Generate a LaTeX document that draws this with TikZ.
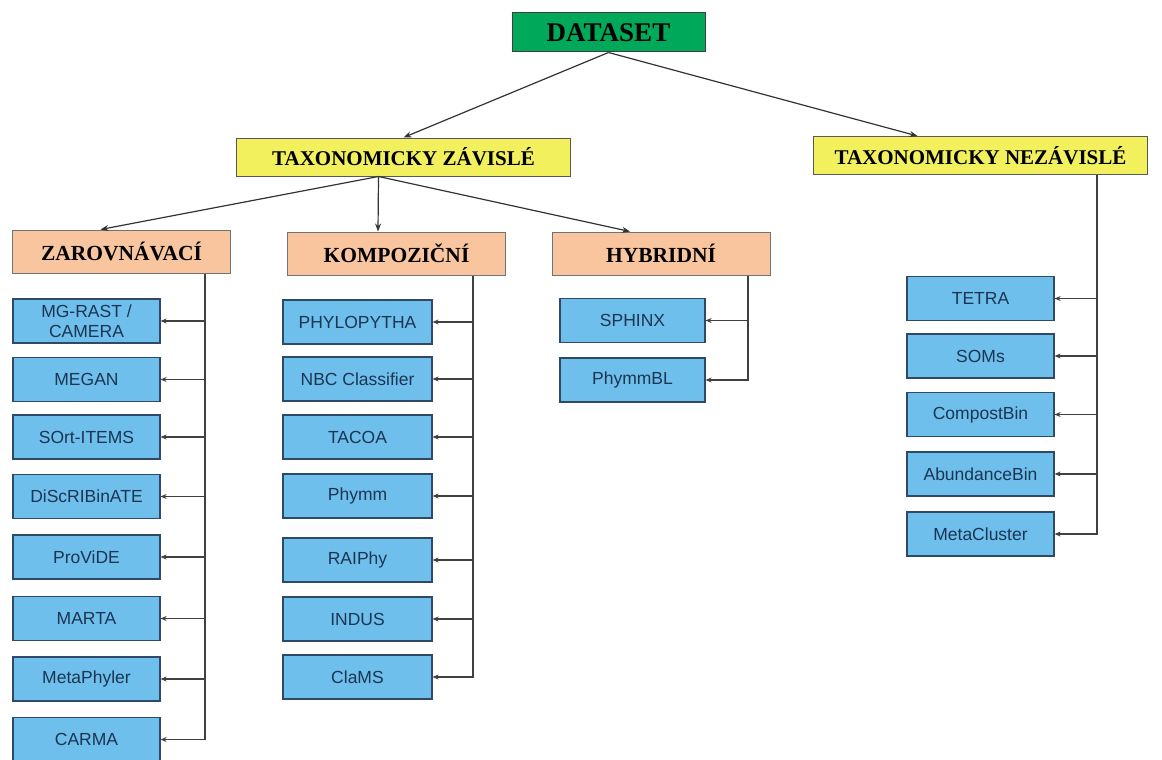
\documentclass[tikz,border=0pt]{standalone}
\usepackage{fontspec}
\setmainfont{Liberation Serif}
\setsansfont{Liberation Sans}
\usetikzlibrary{arrows.meta}

\definecolor{rootgreen}{HTML}{00A85A}
\definecolor{groupyellow}{HTML}{F2F05C}
\definecolor{kindorange}{HTML}{F8C59E}
\definecolor{toolblue}{HTML}{6EBFEC}
\definecolor{toolline}{HTML}{2E4A66}
\definecolor{tooltext}{HTML}{1B3552}

\begin{document}
\begin{tikzpicture}[x=1pt,y=-1pt]
        \tikzstyle{every node}=[inner sep=0pt]
        \tikzstyle{root}=[draw=black!75, line width=1pt, fill=rootgreen, minimum width=193pt, minimum height=39pt, font=\fontsize{27}{27}\selectfont\bfseries]
        \tikzstyle{group}=[draw=black!65, line width=1pt, fill=groupyellow, minimum width=334pt, minimum height=38pt, font=\fontsize{21}{21}\selectfont\bfseries]
        \tikzstyle{kind}=[draw=black!55, line width=1pt, fill=kindorange, minimum width=218pt, minimum height=43pt, font=\fontsize{21.5}{21.5}\selectfont\bfseries]
        \tikzstyle{tool}=[draw=toolline, line width=1.2pt, fill=toolblue, minimum width=147pt, minimum height=44pt, text=tooltext, align=center, font=\sffamily\fontsize{17.5}{20}\selectfont]
        \tikzstyle{link}=[draw=black!80, line width=1.2pt, -{Stealth[length=8pt,width=6pt]}]
        \tikzstyle{feed}=[draw=black!75, line width=1.2pt, -{Stealth[length=6pt,width=5pt]}]

        \useasboundingbox (0,0) rectangle (1162,760);

        \node[root] (dataset) at (608.5,32.5) {DATASET};

        \node[group] (zavisle) at (403.5,157) {TAXONOMICKY ZÁVISLÉ};
        \node[group] (nezavisle) at (980.5,155.5) {TAXONOMICKY NEZÁVISLÉ};

        \node[kind] (zarov) at (121.5,251.5) {ZAROVNÁVACÍ};
        \node[kind] (kompoz) at (396.5,253.5) {KOMPOZIČNÍ};
        \node[kind] (hybrid) at (661,253.5) {HYBRIDNÍ};

        \node[tool] (mgrast) at (86.5,321) {MG-RAST /\\CAMERA};
        \node[tool] (megan) at (86.5,379.5) {MEGAN};
        \node[tool] (sortitems) at (86.5,437) {SOrt-ITEMS};
        \node[tool] (discribinate) at (86.5,496.5) {DiScRIBinATE};
        \node[tool] (provide) at (86.5,557) {ProViDE};
        \node[tool] (marta) at (86.5,618.5) {MARTA};
        \node[tool] (metaphyler) at (86.5,679) {MetaPhyler};
        \node[tool] (carma) at (86.5,739.5) {CARMA};

        \node[tool, minimum width=149pt] (phylopytha) at (357.5,322) {PHYLOPYTHA};
        \node[tool, minimum width=149pt] (nbc) at (357.5,379) {NBC Classifier};
        \node[tool, minimum width=149pt] (tacoa) at (357.5,437) {TACOA};
        \node[tool, minimum width=149pt] (phymm) at (357.5,496) {Phymm};
        \node[tool, minimum width=149pt] (raiphy) at (357.5,560) {RAIPhy};
        \node[tool, minimum width=149pt] (indus) at (357.5,619) {INDUS};
        \node[tool, minimum width=149pt] (clams) at (357.5,677) {ClaMS};

        \node[tool, minimum width=145pt] (sphinx) at (632.5,320.5) {SPHINX};
        \node[tool, minimum width=145pt] (phymmbl) at (632.5,380) {PhymmBL};

        \node[tool] (tetra) at (980.5,298.5) {TETRA};
        \node[tool] (soms) at (980.5,356) {SOMs};
        \node[tool] (compostbin) at (980.5,414.5) {CompostBin};
        \node[tool] (abundancebin) at (980.5,474) {AbundanceBin};
        \node[tool] (metacluster) at (980.5,534) {MetaCluster};

        \coordinate (zavout) at ([xshift=-25pt]zavisle.south);
        \coordinate (trunkA) at ([xshift=83.5pt]zarov.south);
        \coordinate (trunkB) at ([xshift=76.5pt]kompoz.south);
        \coordinate (trunkC) at ([xshift=87pt]hybrid.south);
        \coordinate (trunkD) at ([xshift=116.5pt]nezavisle.south);

        \draw[link] (dataset.south) -- (zavisle.north);
        \draw[link] (dataset.south) -- ([xshift=-63pt]nezavisle.north);

        \draw[link] (zavout) -- ([xshift=-21pt]zarov.north);
        \draw[link] (zavout) -- ([xshift=-18.5pt]kompoz.north);
        \draw[link] (zavout) -- ([xshift=-31pt]hybrid.north);

        \draw[feed] (trunkA) |- (carma);
        \draw[feed] (mgrast.east -| trunkA) -- (mgrast);
        \draw[feed] (megan.east -| trunkA) -- (megan);
        \draw[feed] (sortitems.east -| trunkA) -- (sortitems);
        \draw[feed] (discribinate.east -| trunkA) -- (discribinate);
        \draw[feed] (provide.east -| trunkA) -- (provide);
        \draw[feed] (marta.east -| trunkA) -- (marta);
        \draw[feed] (metaphyler.east -| trunkA) -- (metaphyler);

        \draw[feed] (trunkB) |- (clams);
        \draw[feed] (phylopytha.east -| trunkB) -- (phylopytha);
        \draw[feed] (nbc.east -| trunkB) -- (nbc);
        \draw[feed] (tacoa.east -| trunkB) -- (tacoa);
        \draw[feed] (phymm.east -| trunkB) -- (phymm);
        \draw[feed] (raiphy.east -| trunkB) -- (raiphy);
        \draw[feed] (indus.east -| trunkB) -- (indus);

        \draw[feed] (trunkC) |- (phymmbl);
        \draw[feed] (sphinx.east -| trunkC) -- (sphinx);

        \draw[feed] (trunkD) |- (metacluster);
        \draw[feed] (tetra.east -| trunkD) -- (tetra);
        \draw[feed] (soms.east -| trunkD) -- (soms);
        \draw[feed] (compostbin.east -| trunkD) -- (compostbin);
        \draw[feed] (abundancebin.east -| trunkD) -- (abundancebin);

    \end{tikzpicture}
\end{document}
